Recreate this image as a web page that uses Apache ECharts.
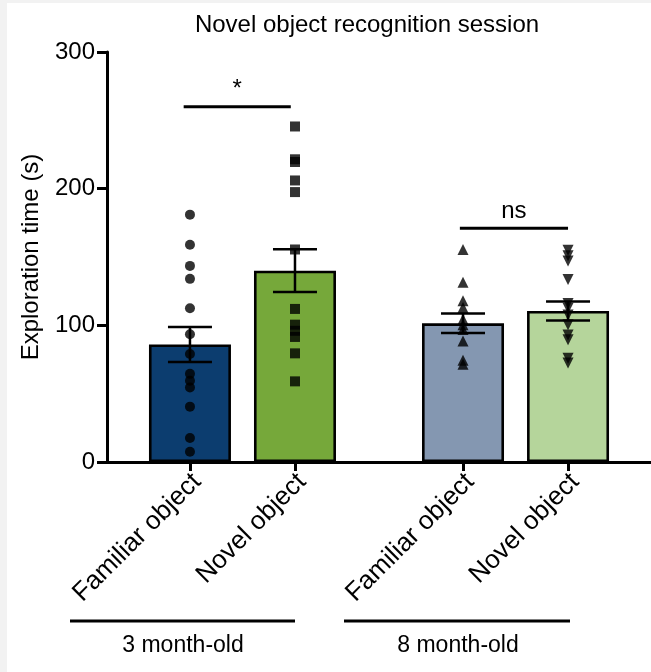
<!DOCTYPE html>
<html><head><meta charset="utf-8">
<script src="https://cdn.jsdelivr.net/npm/echarts@6/dist/echarts.min.js"></script>
<style>
html,body{margin:0;padding:0;background:#f2f2f2;width:651px;height:672px;overflow:hidden;}
#chart{position:absolute;left:7px;top:3px;width:644px;height:669px;background:#fff;}
</style></head><body><div id="chart"></div>
<script>
// ---- data ----
const categories = ['Familiar object', 'Novel object', 'Familiar object', 'Novel object'];
const groupLabels = ['3 month-old', '8 month-old'];
const xPositions = [1, 2, 3.6, 4.6];
const meanValues = [86, 140, 101.5, 110.5];
const semValues = [12.8, 15.6, 7.2, 7.0];
const familiar3mo = [181, 159, 143.5, 134, 112.5, 93.5, 79, 64.5, 59.5, 54.5, 40.5, 17.5, 7.5];
const novel3mo = [245.5, 221.5, 219.5, 206, 197.5, 155.5, 112, 100.5, 96, 91.5, 79.5, 59];
const familiar8mo = [155.5, 131.5, 118, 113, 104.5, 100.5, 97, 88.5, 74.5, 71.5];
const novel8mo = [155, 151, 147, 133.5, 116, 112.5, 107.5, 100.5, 93, 89.5, 76, 72.5];
const yTicks = [0, 100, 200, 300];
const sigStart = [0.94, 3.57];
const sigEnd = [1.96, 4.6];
const sigY = [260, 171];
const sigText = ['*', 'ns'];

// ---- style ----
const FONT = '"Liberation Sans", Arial, Helvetica, sans-serif';
const barColors = ['#0c3d6f', '#76a83a', '#8497b1', '#b5d59b'];
const pointSeries = [
  { data: familiar3mo, symbol: 'circle', size: 10, rotate: 0 },
  { data: novel3mo, symbol: 'rect', size: 10, rotate: 0 },
  { data: familiar8mo, symbol: 'triangle', size: 11, rotate: 0 },
  { data: novel8mo, symbol: 'triangle', size: 11, rotate: 180 }
];

const chart = echarts.init(document.getElementById('chart'), null, { renderer: 'canvas' });

function labelFor(v) {
  for (let i = 0; i < xPositions.length; i++) {
    if (Math.abs(xPositions[i] - v) < 1e-6) return categories[i];
  }
  return '';
}

const series = [];
series.push({
  type: 'bar',
  barWidth: 82,
  z: 1,
  data: xPositions.map((x, i) => ({
    value: [x, meanValues[i]],
    itemStyle: { color: barColors[i], borderColor: '#000', borderWidth: 2.6 }
  })),
  silent: true
});
series.push({
  type: 'custom',
  z: 3,
  data: xPositions.map((x, i) => [x, meanValues[i], semValues[i]]),
  renderItem: function (params, api) {
    const x = api.value(0), m = api.value(1), s = api.value(2);
    const top = api.coord([x, m + s]);
    const bot = api.coord([x, m - s]);
    const half = 22;
    const st = { stroke: '#000', lineWidth: 2.5 };
    return {
      type: 'group',
      children: [
        { type: 'line', shape: { x1: top[0], y1: top[1], x2: bot[0], y2: bot[1] }, style: st },
        { type: 'line', shape: { x1: top[0] - half, y1: top[1], x2: top[0] + half, y2: top[1] }, style: st },
        { type: 'line', shape: { x1: bot[0] - half, y1: bot[1], x2: bot[0] + half, y2: bot[1] }, style: st }
      ]
    };
  }
});
pointSeries.forEach((p, i) => {
  series.push({
    type: 'scatter',
    z: 4,
    symbol: p.symbol,
    symbolSize: p.size,
    symbolRotate: p.rotate,
    itemStyle: { color: '#000' },
    data: p.data.map(v => [xPositions[i], v]),
    silent: true
  });
});
series.push({
  type: 'custom',
  z: 5,
  data: sigStart.map((s, i) => [s, sigEnd[i], sigY[i], i]),
  renderItem: function (params, api) {
    const a = api.coord([api.value(0), api.value(2)]);
    const b = api.coord([api.value(1), api.value(2)]);
    const idx = api.value(3);
    return {
      type: 'group',
      children: [
        { type: 'line', shape: { x1: a[0], y1: a[1], x2: b[0], y2: b[1] }, style: { stroke: '#000', lineWidth: 3 } },
        { type: 'text', x: (a[0] + b[0]) / 2, y: a[1] - 5,
          style: { text: sigText[idx], fill: '#000', font: '24px ' + FONT, textAlign: 'center', textVerticalAlign: 'bottom' } }
      ]
    };
  }
});

const option = {
  animation: false,
  backgroundColor: '#ffffff',
  title: {
    text: 'Novel object recognition session',
    left: 355, top: 5, textAlign: 'center',
    textStyle: { fontFamily: FONT, fontSize: 24, fontWeight: 'normal', color: '#000' }
  },
  grid: { left: 100, top: 49, right: 0, bottom: 210, containLabel: false },
  xAxis: {
    type: 'value',
    min: 0.21, max: 5.39,
    splitLine: { show: false },
    axisLine: { show: true, onZero: false, lineStyle: { color: '#000', width: 3 } },
    axisTick: { show: true, customValues: xPositions, length: 9, lineStyle: { color: '#000', width: 3 } },
    axisLabel: {
      show: true, customValues: xPositions, rotate: 45, margin: 23, padding: [0, -10, 0, 0],
      fontFamily: FONT, fontSize: 26, color: '#000',
      formatter: labelFor
    }
  },
  yAxis: {
    type: 'value',
    min: yTicks[0], max: yTicks[yTicks.length - 1], interval: 100,
    name: 'Exploration time (s)',
    nameLocation: 'middle', nameGap: 64,
    nameTextStyle: { fontFamily: FONT, fontSize: 24, color: '#000' },
    splitLine: { show: false },
    axisLine: { show: true, lineStyle: { color: '#000', width: 3 } },
    axisTick: { show: true, length: 10, lineStyle: { color: '#000', width: 3 } },
    axisLabel: { margin: 12, fontFamily: FONT, fontSize: 24, color: '#000' }
  },
  graphic: [
    { type: 'line', shape: { x1: 63, y1: 618, x2: 288, y2: 618 }, style: { stroke: '#000', lineWidth: 3 } },
    { type: 'line', shape: { x1: 337, y1: 618, x2: 563, y2: 618 }, style: { stroke: '#000', lineWidth: 3 } },
    { type: 'text', x: 176, y: 643, style: { text: groupLabels[0], fill: '#000', font: '23px ' + FONT, textAlign: 'center', textVerticalAlign: 'middle' } },
    { type: 'text', x: 451, y: 643, style: { text: groupLabels[1], fill: '#000', font: '23px ' + FONT, textAlign: 'center', textVerticalAlign: 'middle' } }
  ],
  series: series
};
chart.setOption(option);
</script>
</body></html>
